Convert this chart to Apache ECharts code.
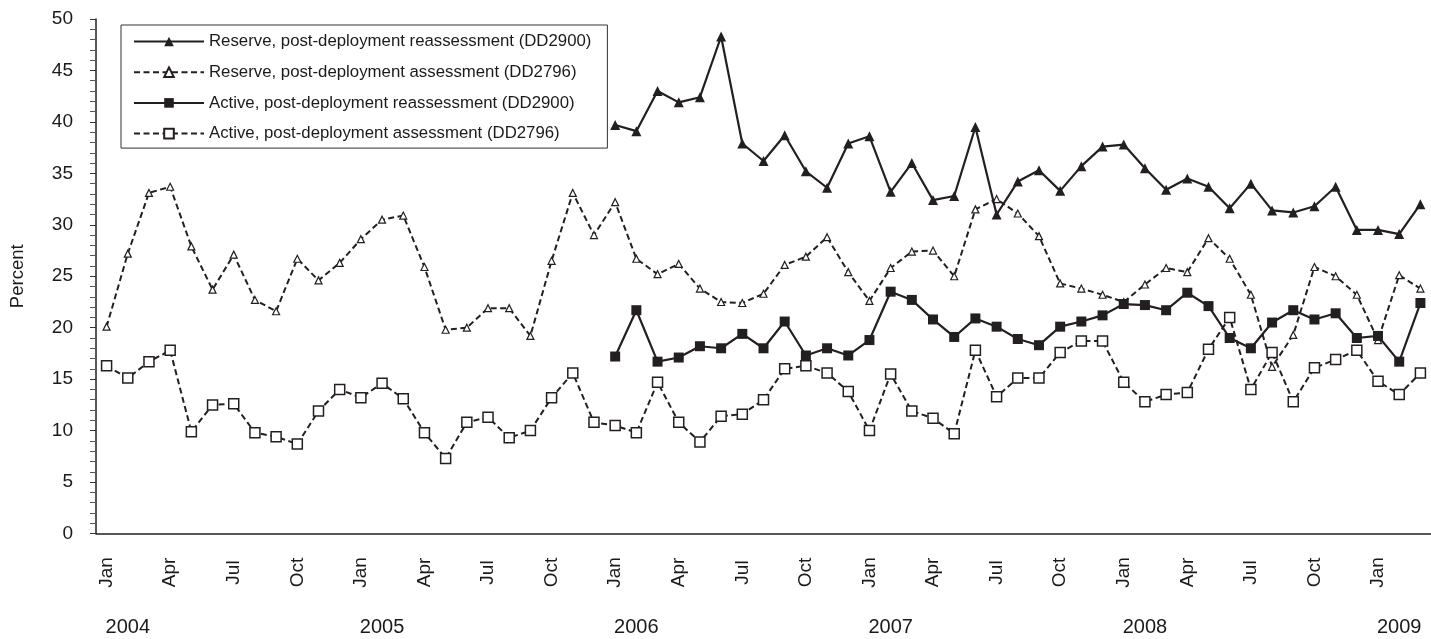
<!DOCTYPE html>
<html>
<head>
<meta charset="utf-8">
<script src="https://cdn.jsdelivr.net/npm/echarts@6/dist/echarts.min.js"></script>
<style>
  html, body { margin: 0; padding: 0; background: #fff; }
  #main { width: 1431px; height: 639px; }
</style>
</head>
<body>
<div id="main"></div>
<script>
// months shown on the axis, Jan 2004 .. Mar 2009
const years = [2004, 2005, 2006, 2007, 2008, 2009]
const monthNames = ['Jan', 'Feb', 'Mar', 'Apr', 'May', 'Jun', 'Jul', 'Aug', 'Sep', 'Oct', 'Nov', 'Dec']
const lastYearMonths = 3

// reassessment series start in Jan 2006
const reassessStart = 24

const reserveReassess = [
  39.7, 39.1, 43.0, 41.9, 42.4, 48.3, 37.9, 36.2, 38.7, 35.2, 33.6, 37.9,
  38.6, 33.2, 36.0, 32.4, 32.8, 39.5, 31.0, 34.2, 35.3, 33.3, 35.7, 37.6,
  37.8, 35.5, 33.4, 34.5, 33.7, 31.6, 34.0, 31.4, 31.2, 31.8, 33.7, 29.5,
  29.5, 29.1, 32.0
]
const reserveAssess = [
  20.1, 27.2, 33.1, 33.7, 27.9, 23.7, 27.1, 22.7, 21.6, 26.7, 24.6, 26.3,
  28.6, 30.5, 30.9, 25.9, 19.8, 20.0, 21.9, 21.9, 19.2, 26.5, 33.1, 29.0,
  32.2, 26.7, 25.2, 26.2, 23.8, 22.5, 22.4, 23.3, 26.1, 26.9, 28.8, 25.4,
  22.6, 25.8, 27.4, 27.5, 25.0, 31.5, 32.5, 31.1, 28.9, 24.3, 23.8, 23.2,
  22.5, 24.2, 25.8, 25.4, 28.7, 26.7, 23.2, 16.2, 19.3, 25.9, 25.0, 23.2,
  18.8, 25.1, 23.8
]
const activeReassess = [
  17.2, 21.7, 16.7, 17.1, 18.2, 18.0, 19.4, 18.0, 20.6, 17.3, 18.0, 17.3,
  18.8, 23.5, 22.7, 20.8, 19.1, 20.9, 20.1, 18.9, 18.3, 20.1, 20.6, 21.2,
  22.3, 22.2, 21.7, 23.4, 22.1, 19.0, 18.0, 20.5, 21.7, 20.8, 21.4, 19.0,
  19.2, 16.7, 22.4
]
const activeAssess = [
  16.3, 15.1, 16.7, 17.8, 9.9, 12.5, 12.6, 9.8, 9.4, 8.7, 11.9, 14.0,
  13.2, 14.6, 13.1, 9.8, 7.3, 10.8, 11.3, 9.3, 10.0, 13.2, 15.6, 10.8,
  10.5, 9.8, 14.7, 10.8, 8.9, 11.4, 11.6, 13.0, 16.0, 16.3, 15.6, 13.8,
  10.0, 15.5, 11.9, 11.2, 9.7, 17.8, 13.3, 15.1, 15.1, 17.6, 18.7, 18.7,
  14.7, 12.8, 13.5, 13.7, 17.9, 21.0, 14.0, 17.6, 12.8, 16.1, 16.9, 17.8,
  14.8, 13.5, 15.6
]

const seriesNames = [
  'Reserve, post-deployment reassessment (DD2900)',
  'Reserve, post-deployment assessment (DD2796)',
  'Active, post-deployment reassessment (DD2900)',
  'Active, post-deployment assessment (DD2796)'
]

const categories = []
const categoryYears = []
years.forEach((y, yi) => {
  const n = yi === years.length - 1 ? lastYearMonths : 12
  for (let m = 0; m < n; m++) {
    categories.push(monthNames[m])
    categoryYears.push(String(y))
  }
})

const pad = (arr) => Array(reassessStart).fill(null).concat(arr)

const ink = '#231f20'
const dash = [6, 3.5]

const chart = echarts.init(document.getElementById('main'))
const option = {
  animation: false,
  backgroundColor: '#fff',
  textStyle: { fontFamily: 'Liberation Sans, Arial, sans-serif', color: '#1a1a1a' },
  grid: { left: 96, top: 19, width: 1339, height: 514.5 },
  legend: {
    orient: 'vertical',
    left: 121,
    top: 25,
    data: seriesNames,
    itemWidth: 70,
    itemHeight: 12,
    itemGap: 13.7,
    padding: [8, 16, 6, 12],
    borderColor: '#333',
    borderWidth: 1,
    backgroundColor: '#fff',
    textStyle: { fontSize: 16.8, color: '#1a1a1a' }
  },
  xAxis: [
    {
      type: 'category',
      data: categories,
      boundaryGap: true,
      axisLine: { lineStyle: { color: ink, width: 1.5 } },
      axisTick: { inside: true, length: 6, interval: 0, lineStyle: { color: '#555' } },
      axisLabel: {
        interval: 2,
        rotate: 90,
        align: 'center',
        verticalAlign: 'middle',
        margin: 39,
        fontSize: 19,
        color: '#1a1a1a'
      }
    },
    {
      type: 'category',
      data: categoryYears,
      position: 'bottom',
      boundaryGap: true,
      axisLine: { show: false },
      axisTick: { show: false },
      axisLabel: {
        interval: (i) => i % 12 === 1,
        margin: 84,
        fontSize: 20,
        color: '#1a1a1a'
      }
    }
  ],
  yAxis: {
    type: 'value',
    min: 0,
    max: 50,
    interval: 5,
    name: 'Percent',
    nameLocation: 'middle',
    nameGap: 69,
    nameTextStyle: { fontSize: 18.5, color: '#1a1a1a' },
    splitLine: { show: false },
    axisLine: { show: true, lineStyle: { color: ink, width: 1.5 } },
    axisTick: { show: true, length: 6, lineStyle: { color: '#333' } },
    minorTick: { show: true, splitNumber: 5, length: 6, lineStyle: { color: '#555' } },
    axisLabel: { margin: 23, fontSize: 19, color: '#1a1a1a' }
  },
  series: [
    {
      name: seriesNames[0],
      type: 'line',
      data: pad(reserveReassess),
      symbol: 'triangle',
      symbolSize: 10,
      itemStyle: { color: ink },
      lineStyle: { color: ink, width: 2.2 },
      z: 5
    },
    {
      name: seriesNames[1],
      type: 'line',
      data: reserveAssess,
      symbol: 'triangle',
      symbolSize: 7,
      itemStyle: { color: '#fff', borderColor: ink, borderWidth: 1.2 },
      lineStyle: { color: ink, width: 2, type: dash },
      z: 3
    },
    {
      name: seriesNames[2],
      type: 'line',
      data: pad(activeReassess),
      symbol: 'rect',
      symbolSize: 10,
      itemStyle: { color: ink },
      lineStyle: { color: ink, width: 2.2 },
      z: 5
    },
    {
      name: seriesNames[3],
      type: 'line',
      data: activeAssess,
      symbol: 'rect',
      symbolSize: 10,
      itemStyle: { color: '#fff', borderColor: ink, borderWidth: 1.5 },
      lineStyle: { color: ink, width: 2, type: dash },
      z: 4
    }
  ]
}
chart.setOption(option)
</script>
</body>
</html>
